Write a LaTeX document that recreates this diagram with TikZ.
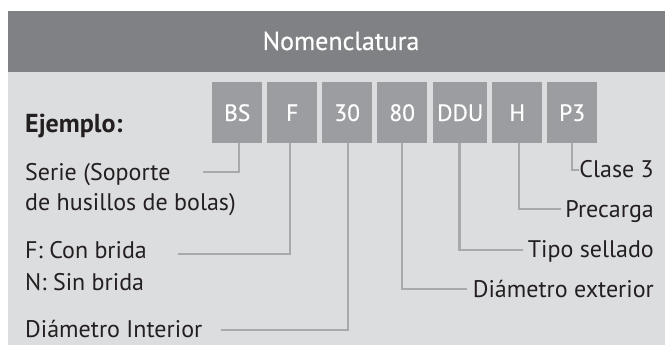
\documentclass[tikz,border=0pt]{standalone}
\usepackage{fontspec}
\setmainfont{PT Sans}
\newfontfamily\medfont[FakeBold=0.5]{PT Sans}
\definecolor{headgray}{HTML}{808184}
\definecolor{panelgray}{HTML}{DCDDDF}
\definecolor{boxgray}{HTML}{9C9DA0}
\definecolor{linegray}{HTML}{A7A9AC}
\definecolor{inkgray}{HTML}{231F20}
\tikzset{
  codebox/.style={fill=boxgray,text=white,minimum height=61pt,inner sep=0pt,anchor=north west,font=\medfont\fontsize{23.5}{24}\selectfont},
  lbl/.style={text=inkgray,inner sep=0pt,font=\fontsize{24}{27}\selectfont},
  conn/.style={draw=linegray,line width=2.5pt},
}
\begin{document}
\begin{tikzpicture}[x=1pt,y=-1pt]
\useasboundingbox (0,0) rectangle (665,345);
\fill[panelgray] (8,72) rectangle (665,345);
\fill[headgray] (8,11) rectangle (665,72);
\node[text=white,inner sep=0pt,anchor=base,font=\medfont\fontsize{26}{26}\selectfont] (title) at (341,50) {Nomenclatura};
\node[codebox,minimum width=50pt] (bs) at (212,82) {BS};
\node[codebox,minimum width=50pt] (f) at (267,82) {F};
\node[codebox,minimum width=50pt] (n30) at (322,82) {30};
\node[codebox,minimum width=50pt] (n80) at (377,82) {80};
\node[codebox,minimum width=54pt] (ddu) at (433,82) {DDU};
\node[codebox,minimum width=50pt] (h) at (492,82) {H};
\node[codebox,minimum width=50pt] (p3) at (547,82) {P3};
\node[lbl,anchor=base west,font=\fontsize{26}{26}\selectfont\bfseries] (ej) at (25,132) {Ejemplo:};
\node[lbl,anchor=base west] (serie) at (25,180) {Serie (Soporte};
\node[lbl,anchor=base west] (husillos) at (25,211) {de husillos de bolas)};
\node[lbl,anchor=base west] (con) at (25,258) {F: Con brida};
\node[lbl,anchor=base west] (sin) at (25,290) {N: Sin brida};
\node[lbl,anchor=base west] (dint) at (25,337) {Diámetro Interior};
\node[lbl,anchor=base east] (clase) at (654,178) {Clase 3};
\node[lbl,anchor=base east] (pre) at (654,218) {Precarga};
\node[lbl,anchor=base east] (tipo) at (654,257) {Tipo sellado};
\node[lbl,anchor=base east] (dext) at (654,297) {Diámetro exterior};
\coordinate (eserie) at (203,172);
\coordinate (econ) at (178,254);
\coordinate (edint) at (221,330);
\coordinate (edext) at (467,289);
\coordinate (etipo) at (523,250);
\coordinate (epre) at (561,209);
\coordinate (eclase) at (579,170);
\draw[conn] ([xshift=2pt]bs.south) |- (eserie);
\draw[conn] ([xshift=-2pt]f.south) |- (econ);
\draw[conn] ([xshift=1pt]n30.south) |- (edint);
\draw[conn] (n80.south) |- (edext);
\draw[conn] ([xshift=-0.5pt]ddu.south) |- (etipo);
\draw[conn] ([xshift=2pt]h.south) |- (epre);
\draw[conn] (p3.south) |- (eclase);
\end{tikzpicture}
\end{document}
